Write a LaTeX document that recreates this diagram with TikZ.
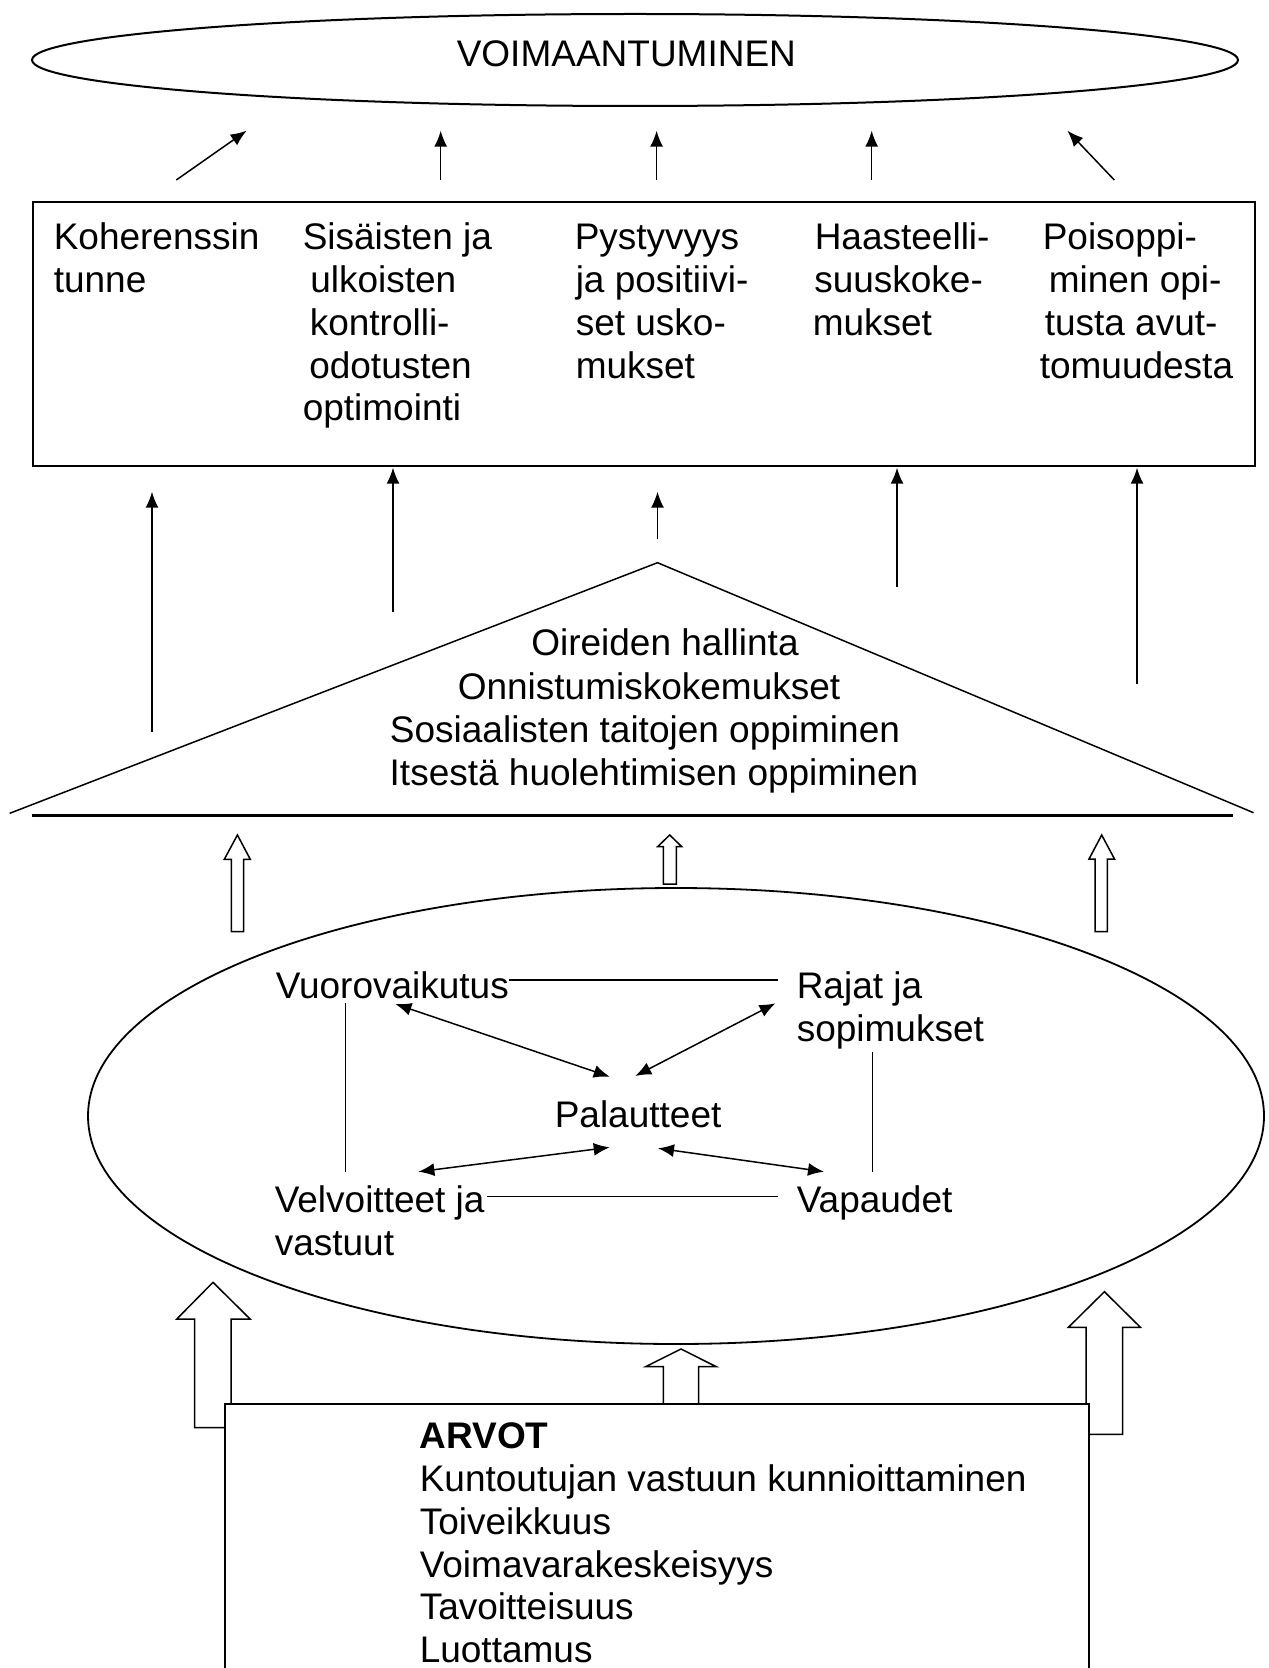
\documentclass[tikz,border=0pt]{standalone}
\usepackage{fontspec}
\setmainfont{Liberation Sans}
\usetikzlibrary{arrows.meta,shapes.geometric}

\begin{document}
\begin{tikzpicture}[x=0.5pt,y=-0.5pt,
  line width=0.75pt,
  txt/.style={inner sep=0pt, anchor=base west, font=\fontsize{18.5pt}{21pt}\selectfont},
  ctxt/.style={txt, anchor=base},
  arr/.style={-{Latex[length=8pt,width=6.5pt]}},
  darr/.style={{Latex[length=8pt,width=6.5pt]}-{Latex[length=8pt,width=6.5pt]}},
  hollow/.style={draw, fill=white, line width=0.75pt, line join=miter},
]
\useasboundingbox (0,0) rectangle (1268,1668);
\clip (0,0) rectangle (1268,1668);

% goal ellipse
\node[draw, ellipse, line width=1pt, minimum width=603pt, minimum height=46pt, inner sep=0pt] (goal) at (635,60) {};
\node[txt] (goaltxt) at (456,66.7) {VOIMAANTUMINEN};

% arrows from the outcome box to the goal
\coordinate (g1s) at (176.3,180); \coordinate (g1e) at (246.6,130.7);
\coordinate (g2s) at (440.7,180); \coordinate (g2e) at (440.7,130.7);
\coordinate (g3s) at (656.6,180); \coordinate (g3e) at (656.6,130.7);
\coordinate (g4s) at (871.7,180); \coordinate (g4e) at (871.7,130.7);
\coordinate (g5s) at (1114.3,180); \coordinate (g5e) at (1067.4,130.7);
\foreach \i in {1,...,5} { \draw[arr] (g\i s) -- (g\i e); }

% outcome box
\node[draw, line width=1pt, minimum width=611pt, minimum height=132pt, inner sep=0pt] (outcomes) at (644,334) {};

\node[txt] (k1) at (53,250) {Koherenssin};
\node[txt] (k2) at (53,292.7) {tunne};

\node[txt] (s1) at (302,250) {Sisäisten ja};
\node[txt] (s2) at (309.5,292.7) {ulkoisten};
\node[txt] (s3) at (309,335.4) {kontrolli-};
\node[txt] (s4) at (308.5,378.1) {odotusten};
\node[txt] (s5) at (302,420.8) {optimointi};

\node[txt] (p1) at (574,250) {Pystyvyys};
\node[txt] (p2) at (575,292.7) {ja positiivi-};
\node[txt] (p3) at (575,335.4) {set usko-};
\node[txt] (p4) at (575,378.1) {mukset};

\node[txt] (h1) at (814,250) {Haasteelli-};
\node[txt] (h2) at (813.5,292.7) {suuskoke-};
\node[txt] (h3) at (812,335.4) {mukset};

\node[txt] (o1) at (1042,250) {Poisoppi-};
\node[txt] (o2) at (1048,292.7) {minen opi-};
\node[txt] (o3) at (1044,335.4) {tusta avut-};
\node[txt] (o4) at (1039,378.1) {tomuudesta};

% arrows from the base up to the outcome box
\coordinate (b1s) at (152,731.7);  \coordinate (b1e) at (152,491.7);
\coordinate (b2s) at (393,611.7);  \coordinate (b2e) at (393,467.7);
\coordinate (b3s) at (657.5,539);  \coordinate (b3e) at (657.5,491.7);
\coordinate (b4s) at (897,587);    \coordinate (b4e) at (897,467.7);
\coordinate (b5s) at (1137,684);   \coordinate (b5e) at (1137,467.7);
\foreach \i in {1,...,5} { \draw[arr] (b\i s) -- (b\i e); }

% triangle of skills
\coordinate (apex) at (657.5,562.7);
\coordinate (tl) at (9.7,813.3);
\coordinate (tr) at (1253.5,812.7);
\draw (tl) -- (apex) -- (tr);
\coordinate (fl) at (32,815.5);
\coordinate (fr) at (1233,815.5);
\draw[line width=1.2pt] (fl) -- (fr);

\node[ctxt] (t1) at (665,655.5) {Oireiden hallinta};
\node[ctxt] (t2) at (649,699) {Onnistumiskokemukset};
\node[ctxt] (t3) at (645,742.2) {Sosiaalisten taitojen oppiminen};
\node[ctxt] (t4) at (654,785.5) {Itsestä huolehtimisen oppiminen};

% hollow arrows from the ellipse to the triangle
\draw[hollow] (231.3,931.7) -- (231.3,859.3) -- (224.3,859.3) -- (237.4,835) -- (250.3,859.3) -- (243.5,859.3) -- (243.5,931.7) -- cycle;
\draw[hollow] (663.3,884) -- (663.3,846.7) -- (657.6,846.7) -- (669.7,835) -- (681.8,846.7) -- (676.3,846.7) -- (676.3,884) -- cycle;
\draw[hollow] (1095.2,931.7) -- (1095.2,859) -- (1089,859) -- (1101.7,835) -- (1114.5,859) -- (1107.4,859) -- (1107.4,931.7) -- cycle;

% core ellipse
\node[draw, ellipse, line width=0.9pt, minimum width=588pt, minimum height=228pt, inner sep=0pt] (core) at (676,1116) {};

\node[txt] (vuoro) at (275,998.7) {Vuorovaikutus};
\node[txt] (rajat) at (796,998.7) {Rajat ja};
\node[txt] (rajat2) at (796,1041.5) {sopimukset};
\node[txt] (pal) at (554,1127) {Palautteet};
\node[txt] (velv) at (274,1212.7) {Velvoitteet ja};
\node[txt] (velv2) at (274,1255.4) {vastuut};
\node[txt] (vap) at (796,1212.7) {Vapaudet};

\coordinate (vr1) at (509,979.8);  \coordinate (vr2) at (778,979.8);
\coordinate (vv1) at (487,1196.5);   \coordinate (vv2) at (778,1196.5);
\coordinate (lv1) at (345.4,1003); \coordinate (lv2) at (345.4,1171.7);
\coordinate (rv1) at (872.4,1051.7); \coordinate (rv2) at (872.4,1171.7);
\draw (vr1) -- (vr2);
\draw (vv1) -- (vv2);
\draw (lv1) -- (lv2);
\draw (rv1) -- (rv2);

\coordinate (a1s) at (395.4,1004);   \coordinate (a1e) at (609.7,1076.7);
\coordinate (a2s) at (775.5,1003.3); \coordinate (a2e) at (635.2,1076);
\coordinate (a3s) at (418.4,1171.7); \coordinate (a3e) at (609.7,1147.3);
\coordinate (a4s) at (658,1148.3);   \coordinate (a4e) at (824,1171.7);
\foreach \i in {1,...,4} { \draw[darr] (a\i s) -- (a\i e); }

% hollow arrows from the values box to the core ellipse
\draw[hollow] (194.6,1427.7) -- (194.6,1319) -- (176.8,1319) -- (213,1282.3) -- (250.1,1319) -- (231,1319) -- (231,1427.7) -- cycle;
\draw[hollow] (663.4,1420) -- (663.4,1366.7) -- (645.5,1366.7) -- (681,1349) -- (716.3,1366.7) -- (698.5,1366.7) -- (698.5,1420) -- cycle;
\draw[hollow] (1086.2,1434.3) -- (1086.2,1327.3) -- (1068.4,1327.3) -- (1104.4,1291.7) -- (1140.4,1327.3) -- (1122.6,1327.3) -- (1122.6,1434.3) -- cycle;

% values box
\node[draw, fill=white, line width=0.9pt, minimum width=432pt, minimum height=158pt, inner sep=0pt] (values) at (657,1562) {};
\node[txt, font=\fontsize{18.5pt}{21pt}\selectfont\bfseries] (arvot) at (419,1448) {ARVOT};
\node[txt] (v1) at (419,1491.7) {Kuntoutujan vastuun kunnioittaminen};
\node[txt] (v2) at (419,1534.4) {Toiveikkuus};
\node[txt] (v3) at (419,1577.1) {Voimavarakeskeisyys};
\node[txt] (v4) at (419,1619.8) {Tavoitteisuus};
\node[txt] (v5) at (419,1662.5) {Luottamus};
\end{tikzpicture}
\end{document}
